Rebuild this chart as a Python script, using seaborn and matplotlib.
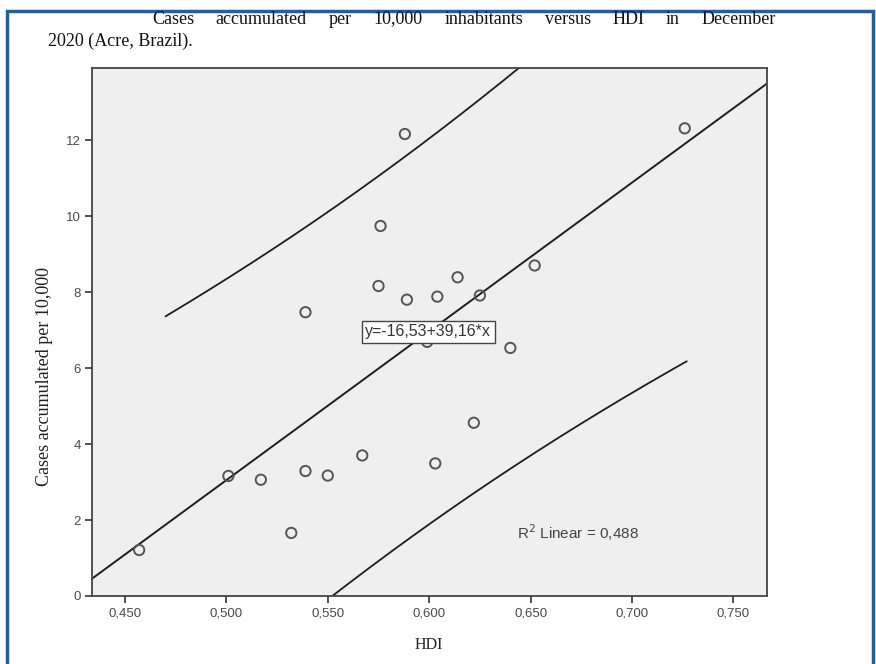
import numpy as np
import pandas as pd
import matplotlib
matplotlib.use("Agg")
import matplotlib.pyplot as plt
import seaborn as sns
from matplotlib.patches import Rectangle
from matplotlib.ticker import FuncFormatter, FixedLocator

# ---------------- data ----------------
hdi = [0.457, 0.501, 0.517, 0.532, 0.539, 0.550, 0.567, 0.603, 0.622, 0.539,
       0.575, 0.576, 0.588, 0.589, 0.604, 0.614, 0.625, 0.640, 0.652, 0.726, 0.599]
cases = [1.21, 3.16, 3.06, 1.66, 3.29, 3.17, 3.70, 3.49, 4.56, 7.47,
         8.16, 9.74, 12.16, 7.80, 7.88, 8.39, 7.91, 6.53, 8.70, 12.31, 6.69]
intercept = -16.53
slope = 39.16
r2_linear = 0.488
t_crit = 2.093  # t(0.975, df=19)
interval_range = (0.470, 0.727)  # HDI span of the drawn prediction curves

x_ticks = [0.450, 0.500, 0.550, 0.600, 0.650, 0.700, 0.750]
y_ticks = [0, 2, 4, 6, 8, 10, 12]
x_limits = (0.4336, 0.7664)
y_limits = (0, 13.89)

title_line1 = "Cases accumulated per 10,000 inhabitants versus HDI in December"
title_line2 = "2020 (Acre, Brazil)."
x_label = "HDI"
y_label = "Cases accumulated per 10,000"
eq_label = "y=-16,53+39,16*x"
r2_label = "R$^2$ Linear = 0,488"

df = pd.DataFrame({"HDI": hdi, "Cases": cases})

# ---------------- figure ----------------
sns.set_style("white")
plt.rcParams["font.family"] = ["Liberation Sans", "DejaVu Sans"]

W, H = 876, 664
fig = plt.figure(figsize=(W / 100, H / 100), dpi=100)
fig.patch.set_facecolor("white")

left, right, top, bottom = 91.7, 766.7, 68.3, 596.0
ax = fig.add_axes([left / W, 1 - bottom / H, (right - left) / W, (bottom - top) / H])
ax.set_facecolor("#efefef")

ax.set_xlim(*x_limits)
ax.set_ylim(*y_limits)

# fit line across the whole axis
xl = np.linspace(x_limits[0], x_limits[1], 50)
fit_df = pd.DataFrame({"x": xl, "y": intercept + slope * xl})
sns.lineplot(data=fit_df, x="x", y="y", ax=ax, color="#1e1e1e", lw=1.4,
             estimator=None, sort=False)

# 95% prediction interval for individuals
xa = np.array(hdi)
ya = np.array(cases)
n = len(xa)
resid = ya - (intercept + slope * xa)
s = np.sqrt(np.sum(resid ** 2) / (n - 2))
xbar = xa.mean()
sxx = np.sum((xa - xbar) ** 2)
xp = np.linspace(interval_range[0], interval_range[1], 200)
half = t_crit * s * np.sqrt(1 + 1 / n + (xp - xbar) ** 2 / sxx)
yp = intercept + slope * xp
pi_df = pd.DataFrame({"x": xp, "upper": yp + half, "lower": yp - half})
sns.lineplot(data=pi_df, x="x", y="upper", ax=ax, color="#1e1e1e", lw=1.3,
             estimator=None, sort=False)
sns.lineplot(data=pi_df, x="x", y="lower", ax=ax, color="#1e1e1e", lw=1.3,
             estimator=None, sort=False)

# points
sns.scatterplot(data=df, x="HDI", y="Cases", ax=ax, marker="o", s=55,
                facecolor="none", edgecolor="#555555", linewidth=1.4, zorder=5)

ax.set_xlim(*x_limits)
ax.set_ylim(*y_limits)

# ticks
ax.xaxis.set_major_locator(FixedLocator(x_ticks))
ax.yaxis.set_major_locator(FixedLocator(y_ticks))
ax.xaxis.set_major_formatter(FuncFormatter(lambda v, p: f"{v:.3f}".replace(".", ",")))
ax.yaxis.set_major_formatter(FuncFormatter(lambda v, p: f"{int(round(v))}"))
ax.tick_params(axis="both", which="major", direction="out", length=5, width=1.3,
               color="#444444", labelcolor="#4a4a4a", labelsize=9.5, pad=3,
               bottom=True, left=True, top=False, right=False)
for sp in ax.spines.values():
    sp.set_color("#444444")
    sp.set_linewidth(1.3)
    sp.set_visible(True)
ax.set_xlabel("")
ax.set_ylabel("")

# annotations
ax.text(0.5996, 6.96, eq_label, ha="center", va="center", fontsize=11.5,
        color="#333333", zorder=10,
        bbox=dict(boxstyle="square,pad=0.22", fc="white", ec="#444444", lw=1.0))
ax.text(0.6434, 1.66, r2_label, ha="left", va="center", fontsize=11,
        color="#444444")

# axis labels (serif)
serif = ["Liberation Serif", "DejaVu Serif"]
fig.text(429 / W, 1 - 645 / H, x_label, ha="center", va="center",
         fontsize=11.5, family=serif, color="#222222")
fig.text(45 / W, 1 - 376 / H, y_label, ha="center", va="center", rotation=90,
         fontsize=13, family=serif, color="#222222")

# justified title
renderer = fig.canvas.get_renderer()
words = title_line1.split()
objs = [fig.text(0, 0, w, ha="left", va="center", fontsize=13, family=serif,
                 color="#111111") for w in words]
widths = [o.get_window_extent(renderer).width for o in objs]
x1, x2 = 152, 776
gap = (x2 - x1 - sum(widths)) / (len(words) - 1)
xx = x1
for o, w in zip(objs, widths):
    o.set_position((xx / W, 1 - 19 / H))
    xx += w + gap
fig.text(48 / W, 1 - 41 / H, title_line2, ha="left", va="center", fontsize=13,
         family=serif, color="#111111")

# blue frame
fig.patches.append(Rectangle((7 / W, -0.05), (873 - 7) / W, (H - 11) / H + 0.05,
                             transform=fig.transFigure, fill=False,
                             edgecolor="#1f5fa8", lw=2.5, zorder=0))

fig.savefig("out.png", dpi=100)
